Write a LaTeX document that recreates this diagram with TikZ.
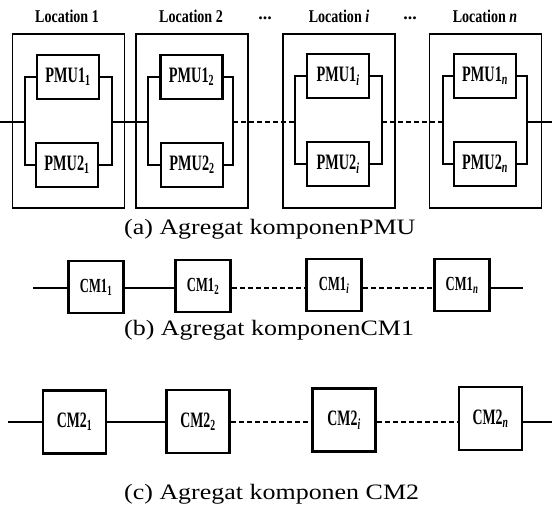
\documentclass[tikz,border=0pt]{standalone}
\usepackage{fontspec}
\setmainfont{Liberation Serif}
\usepackage{graphicx}
\newcommand{\cnd}[2]{\scalebox{#1}[1]{#2}}
\newcommand{\sbs}[1]{\textsubscript{#1}}
\begin{document}
\begin{tikzpicture}[x=1pt,y=-1pt,
  outer/.style={draw, line width=1.8pt, minimum width=112pt, minimum height=174pt, inner sep=0pt},
  pmu/.style={draw, fill=white, line width=2.8pt, minimum width=62pt, minimum height=44pt, inner sep=0pt, font=\fontsize{22}{22}\selectfont\bfseries},
  cmA/.style={draw, fill=white, line width=2.8pt, minimum width=55pt, minimum height=52pt, inner sep=0pt, font=\fontsize{20}{20}\selectfont\bfseries},
  cmB/.style={draw, fill=white, line width=2.8pt, minimum width=63pt, minimum height=63pt, inner sep=0pt, font=\fontsize{22}{22}\selectfont\bfseries},
  wire/.style={line width=2.2pt},
  dwire/.style={line width=2.2pt, dash pattern=on 5pt off 3pt},
  loc/.style={font=\fontsize{18}{18}\selectfont\bfseries, inner sep=0pt},
  captxt/.style={font=\fontsize{22}{22}\selectfont, anchor=west, inner sep=0pt}]
\useasboundingbox (0,0) rectangle (552,516);

% ---------- (a) PMU aggregate ----------
\node[loc] (t1) at (67,16) {\cnd{0.78}{Location 1}};
\node[loc] (t2) at (191,16) {\cnd{0.78}{Location 2}};
\node[loc] (d1) at (265,18) {...};
\node[loc] (t3) at (339,16) {\cnd{0.78}{Location \textit{i}}};
\node[loc] (d2) at (410,18) {...};
\node[loc] (t4) at (485,16) {\cnd{0.78}{Location \textit{n}}};

\node[outer] (O1) at (68.5,121) {};
\node[outer] (O2) at (192,121) {};
\node[outer] (O3) at (339,121) {};
\node[outer] (O4) at (485.5,121) {};

\node[pmu] (P11) at (68,77) {\cnd{0.65}{PMU1\sbs{1}}};
\node[pmu] (P21) at (67,165) {\cnd{0.65}{PMU2\sbs{1}}};
\node[pmu] (P12) at (191.5,77) {\cnd{0.65}{PMU1\sbs{2}}};
\node[pmu] (P22) at (192,165) {\cnd{0.65}{PMU2\sbs{2}}};
\node[pmu] (P13) at (338,76) {\cnd{0.65}{PMU1\sbs{\textit{i}}}};
\node[pmu] (P23) at (338,164) {\cnd{0.65}{PMU2\sbs{\textit{i}}}};
\node[pmu] (P14) at (485,76) {\cnd{0.65}{PMU1\sbs{\textit{n}}}};
\node[pmu] (P24) at (485,164) {\cnd{0.65}{PMU2\sbs{\textit{n}}}};

\coordinate (S) at (0,122);
\coordinate (A1) at (25,122);  \coordinate (B1) at (112,122);
\coordinate (A2) at (148,122); \coordinate (B2) at (233,122);
\coordinate (A3) at (295,122); \coordinate (B3) at (382,122);
\coordinate (A4) at (443,122); \coordinate (B4) at (527,122);
\coordinate (E) at (552,122);

\foreach \k in {1,2,3,4}{
  \draw[wire] (P1\k.west) -| (A\k) |- (P2\k.west);
  \draw[wire] (P1\k.east) -| (B\k) |- (P2\k.east);
}
\draw[wire] (S) -- (A1);
\draw[wire] (B1) -- (A2);
\draw[dwire] (B2) -- (A3);
\draw[dwire] (B3) -- (A4);
\draw[wire] (B4) -- (E);

\node[captxt] (ca) at (124,229) {\cnd{1.18}{(a) Agregat komponenPMU}};

% ---------- (b) CM1 aggregate ----------
\node[cmA] (C11) at (96,287) {\cnd{0.63}{CM1\sbs{1}}};
\node[cmA] (C12) at (203,286) {\cnd{0.63}{CM1\sbs{2}}};
\node[cmA] (C13) at (334,285) {\cnd{0.63}{CM1\sbs{\textit{i}}}};
\node[cmA] (C14) at (462,285) {\cnd{0.63}{CM1\sbs{\textit{n}}}};
\coordinate (bS) at (33,288);
\coordinate (bE) at (523,288);
\draw[wire] (bS) -- (bS -| C11.west);
\draw[wire] (C11.east |- bS) -- (C12.west |- bS);
\draw[dwire] (C12.east |- bS) -- (C13.west |- bS);
\draw[dwire] (C13.east |- bS) -- (C14.west |- bS);
\draw[wire] (C14.east |- bS) -- (bE);

\node[captxt] (cb) at (124,330) {\cnd{1.18}{(b) Agregat komponenCM1}};

% ---------- (c) CM2 aggregate ----------
\node[cmB] (C21) at (74.5,422) {\cnd{0.63}{CM2\sbs{1}}};
\node[cmB] (C22) at (198,421.5) {\cnd{0.63}{CM2\sbs{2}}};
\node[cmB] (C23) at (344,420) {\cnd{0.63}{CM2\sbs{\textit{i}}}};
\node[cmB] (C24) at (490.5,418.5) {\cnd{0.63}{CM2\sbs{\textit{n}}}};
\coordinate (cS) at (8,422);
\coordinate (cE) at (552,422);
\draw[wire] (cS) -- (cS -| C21.west);
\draw[wire] (C21.east |- cS) -- (C22.west |- cS);
\draw[dwire] (C22.east |- cS) -- (C23.west |- cS);
\draw[dwire] (C23.east |- cS) -- (C24.west |- cS);
\draw[wire] (C24.east |- cS) -- (cE);

\node[captxt] (cc) at (124,494) {\cnd{1.18}{(c) Agregat komponen CM2}};
\end{tikzpicture}
\end{document}
